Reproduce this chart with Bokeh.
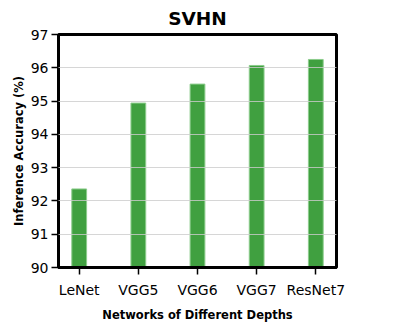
from bokeh.plotting import figure
from bokeh.models import Range1d, FixedTicker, Title
from bokeh.embed import file_html
from bokeh.resources import INLINE

networks = ["LeNet", "VGG5", "VGG6", "VGG7", "ResNet7"]
accuracy = [92.36, 94.94, 95.51, 96.07, 96.25]
y_ticks = [90, 91, 92, 93, 94, 95, 96, 97]

xs = list(range(len(networks)))

p = figure(width=399, height=324, output_backend="svg", toolbar_location=None,
           x_range=Range1d(-0.35, len(networks) - 1 + 0.35), y_range=Range1d(90, 97),
           min_border_left=58, min_border_right=63, min_border_top=25, min_border_bottom=52)

p.title = Title(text="SVHN", align="center", text_font="DejaVu Sans", text_font_size="18.5px",
                text_font_style="bold", text_color="black", offset=0, standoff=11)

p.vbar(x=xs, top=accuracy, bottom=90, width=0.25, fill_color="#40a040",
       line_color="#8ccc8c", line_width=1)

p.outline_line_color = "black"
p.outline_line_width = 3
p.outline_line_alpha = 1

p.xgrid.grid_line_color = None
p.ygrid.grid_line_color = "#cccccc"
p.ygrid.grid_line_alpha = 0.8
p.ygrid.grid_line_width = 1
p.ygrid.level = "overlay"
p.ygrid.ticker = FixedTicker(ticks=y_ticks)

p.xaxis.ticker = FixedTicker(ticks=xs)
p.xaxis.major_label_overrides = {i: n for i, n in enumerate(networks)}
p.yaxis.ticker = FixedTicker(ticks=y_ticks)

for ax in (p.xaxis[0], p.yaxis[0]):
    ax.axis_line_color = "black"
    ax.axis_line_width = 3
    ax.major_tick_line_color = "black"
    ax.major_tick_line_width = 1.5
    ax.major_tick_out = 7
    ax.major_tick_in = 0
    ax.minor_tick_line_color = None
    ax.major_label_text_font = "DejaVu Sans"
    ax.major_label_text_font_size = "14px"
    ax.major_label_text_color = "black"
    ax.axis_label_text_font = "DejaVu Sans"
    ax.axis_label_text_font_style = "bold"
    ax.axis_label_text_font_size = "11.5px"
    ax.axis_label_text_color = "black"

p.xaxis.axis_label = "Networks of Different Depths"
p.yaxis.axis_label = "Inference Accuracy (%)"
p.xaxis.major_label_standoff = 7
p.yaxis.major_label_standoff = 3
p.xaxis.axis_label_standoff = 7
p.yaxis.axis_label_standoff = 2
p.background_fill_color = "white"
p.border_fill_color = "white"

open("out.html", "w").write(file_html(p, INLINE))
